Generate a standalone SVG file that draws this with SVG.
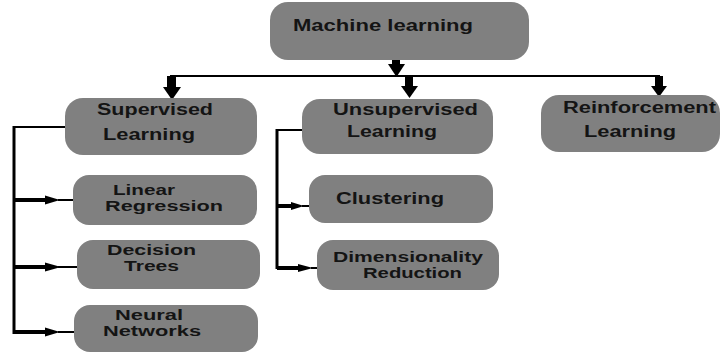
<svg xmlns="http://www.w3.org/2000/svg" width="722" height="354" viewBox="0 0 722 354">
<style>
.box{fill:#808080;}
.t{font-family:"Liberation Sans",Arial,sans-serif;font-weight:bold;font-size:16px;fill:#141414;}
.s{font-size:14px;}
.ln{stroke:#000;fill:none;}
.hd{fill:#000;}
</style>
<rect x="0" y="0" width="722" height="354" fill="#fff"/>
<g id="connectors">
  <rect class="hd" x="392" y="60" width="8" height="5"/>
  <polygon class="hd" points="388,64 405,64 396.5,77"/>
  <line class="ln" x1="170" y1="76" x2="660" y2="76" stroke-width="2"/>
  <rect class="hd" x="167" y="76" width="9" height="12"/>
  <polygon class="hd" points="163,87 181,87 172,100"/>
  <rect class="hd" x="405" y="76" width="8" height="11"/>
  <polygon class="hd" points="401,86 418,86 409.5,98"/>
  <rect class="hd" x="655" y="76" width="8" height="11"/>
  <polygon class="hd" points="651,86 667,86 659,97"/>
  <line class="ln" x1="14" y1="126" x2="14" y2="334" stroke-width="3"/>
  <line class="ln" x1="13" y1="127" x2="65" y2="127" stroke-width="2"/>
  <line class="ln" x1="14" y1="200" x2="48" y2="200" stroke-width="4"/>
  <polygon class="hd" points="45,195.5 60,200 45,204.5"/>
  <line class="ln" x1="58" y1="200" x2="74" y2="200" stroke-width="2"/>
  <line class="ln" x1="14" y1="267" x2="48" y2="267" stroke-width="4"/>
  <polygon class="hd" points="45,262.5 61,267 45,271.5"/>
  <line class="ln" x1="58" y1="267" x2="78" y2="267" stroke-width="2"/>
  <line class="ln" x1="14" y1="332" x2="48" y2="332" stroke-width="4"/>
  <polygon class="hd" points="45,327.5 60,332 45,336.5"/>
  <line class="ln" x1="58" y1="332" x2="75" y2="332" stroke-width="2"/>
  <line class="ln" x1="277" y1="129" x2="277" y2="269" stroke-width="3"/>
  <line class="ln" x1="276" y1="130" x2="302" y2="130" stroke-width="2"/>
  <line class="ln" x1="277" y1="206" x2="293" y2="206" stroke-width="4"/>
  <polygon class="hd" points="291,202 304,206 291,210"/>
  <line class="ln" x1="302" y1="206" x2="310" y2="206" stroke-width="2"/>
  <line class="ln" x1="277" y1="268" x2="300" y2="268" stroke-width="4"/>
  <polygon class="hd" points="298,264 313,268 298,272"/>
  <line class="ln" x1="311" y1="268" x2="318" y2="268" stroke-width="2"/>
</g>
<g id="machine-learning">
  <rect class="box" x="270" y="2" width="259" height="58" rx="18"/>
  <text class="t" x="293" y="31" textLength="180" lengthAdjust="spacingAndGlyphs">Machine learning</text>
</g>
<g id="supervised">
  <rect class="box" x="65" y="98" width="192" height="57" rx="18"/>
  <text class="t" x="97" y="115" textLength="116" lengthAdjust="spacingAndGlyphs">Supervised</text>
  <text class="t" x="103" y="140" textLength="92" lengthAdjust="spacingAndGlyphs">Learning</text>
</g>
<g id="unsupervised">
  <rect class="box" x="302" y="99" width="191" height="55" rx="18"/>
  <text class="t" x="333" y="115" textLength="145" lengthAdjust="spacingAndGlyphs">Unsupervised</text>
  <text class="t" x="347" y="137" textLength="90" lengthAdjust="spacingAndGlyphs">Learning</text>
</g>
<g id="reinforcement">
  <rect class="box" x="541" y="95" width="179" height="57" rx="18"/>
  <text class="t" x="563" y="113" textLength="153" lengthAdjust="spacingAndGlyphs">Reinforcement</text>
  <text class="t" x="584" y="137" textLength="92" lengthAdjust="spacingAndGlyphs">Learning</text>
</g>
<g id="linear-regression">
  <rect class="box" x="73" y="175" width="184" height="50" rx="16"/>
  <text class="t s" x="113" y="195" textLength="62" lengthAdjust="spacingAndGlyphs">Linear</text>
  <text class="t s" x="105" y="211" textLength="118" lengthAdjust="spacingAndGlyphs">Regression</text>
</g>
<g id="decision-trees">
  <rect class="box" x="77" y="240" width="183" height="49" rx="16"/>
  <text class="t s" x="107" y="255" textLength="89" lengthAdjust="spacingAndGlyphs">Decision</text>
  <text class="t s" x="124" y="271" textLength="55" lengthAdjust="spacingAndGlyphs">Trees</text>
</g>
<g id="neural-networks">
  <rect class="box" x="74" y="305" width="184" height="47" rx="16"/>
  <text class="t s" x="115" y="320" textLength="68" lengthAdjust="spacingAndGlyphs">Neural</text>
  <text class="t s" x="103" y="336" textLength="98" lengthAdjust="spacingAndGlyphs">Networks</text>
</g>
<g id="clustering">
  <rect class="box" x="309" y="175" width="184" height="48" rx="16"/>
  <text class="t" x="336" y="204" textLength="108" lengthAdjust="spacingAndGlyphs">Clustering</text>
</g>
<g id="dimensionality-reduction">
  <rect class="box" x="317" y="240" width="182" height="50" rx="16"/>
  <text class="t s" x="333" y="262" textLength="150" lengthAdjust="spacingAndGlyphs">Dimensionality</text>
  <text class="t s" x="363" y="278" textLength="99" lengthAdjust="spacingAndGlyphs">Reduction</text>
</g>
</svg>
